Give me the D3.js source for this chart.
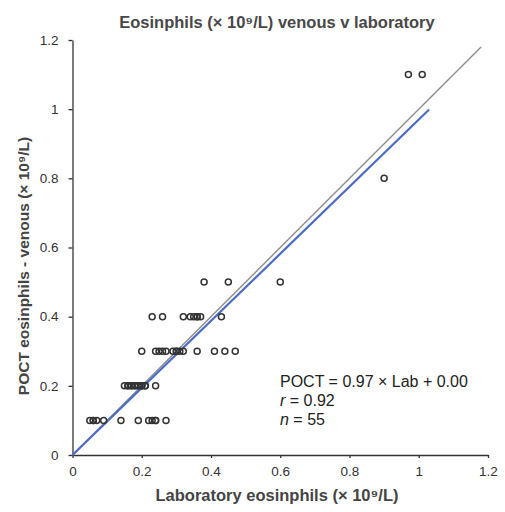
<!DOCTYPE html>
<html>
<head>
<meta charset="utf-8">
<script src="https://cdn.jsdelivr.net/npm/d3@7"></script>
<style>
  body { margin: 0; background: #fff; }
  svg { font-family: "Liberation Sans", Arial, sans-serif; }
  .axis path, .axis line { stroke: #333; stroke-width: 1.3; }
  .axis text { font-size: 13.5px; fill: #333; }
</style>
</head>
<body>
<div id="chart"></div>
<script>
// lab (x) and POCT venous (y) eosinphil counts, x10^9/L
const labValues = [
    0.05, 0.06, 0.06, 0.07, 0.09, 0.14, 0.19, 0.22, 0.23, 0.24, 0.24, 0.27,
    0.15, 0.16, 0.16, 0.17, 0.17, 0.18, 0.18, 0.19, 0.19, 0.20, 0.20, 0.21, 0.21, 0.24,
    0.20, 0.24, 0.25, 0.26, 0.27, 0.29, 0.30, 0.30, 0.31, 0.32, 0.36, 0.41, 0.44, 0.47,
    0.23, 0.26, 0.32, 0.34, 0.35, 0.36, 0.36, 0.37, 0.43,
    0.38, 0.45, 0.60,
    0.90,
    0.97, 1.01
];
const poctValues = [
    0.1, 0.1, 0.1, 0.1, 0.1, 0.1, 0.1, 0.1, 0.1, 0.1, 0.1, 0.1,
    0.2, 0.2, 0.2, 0.2, 0.2, 0.2, 0.2, 0.2, 0.2, 0.2, 0.2, 0.2, 0.2, 0.2,
    0.3, 0.3, 0.3, 0.3, 0.3, 0.3, 0.3, 0.3, 0.3, 0.3, 0.3, 0.3, 0.3, 0.3,
    0.4, 0.4, 0.4, 0.4, 0.4, 0.4, 0.4, 0.4, 0.4,
    0.5, 0.5, 0.5,
    0.8,
    1.1, 1.1
];
const tickValues = [0, 0.2, 0.4, 0.6, 0.8, 1, 1.2];
const identityLine = [[0, 0], [1.18, 1.18]];
const slope = 0.97, intercept = 0.00;
const fitRange = [0, 1.03];
const statsLines = ['POCT = 0.97 \u00d7 Lab + 0.00', 'r = 0.92', 'n = 55'];

const width = 505, height = 512;
const margin = { top: 40, right: 17, bottom: 57, left: 72.5 };

const svg = d3.select('#chart').append('svg')
    .attr('width', width)
    .attr('height', height);

const x = d3.scaleLinear().domain([0, 1.2]).range([margin.left, width - margin.right]);
const y = d3.scaleLinear().domain([0, 1.2]).range([height - margin.bottom, margin.top]);

const fmt = d => String(+d.toFixed(1));

svg.append('g')
    .attr('class', 'axis')
    .attr('transform', `translate(0,${height - margin.bottom})`)
    .call(d3.axisBottom(x).tickValues(tickValues).tickFormat(fmt).tickSize(3).tickSizeOuter(0).tickPadding(8));

svg.append('g')
    .attr('class', 'axis')
    .attr('transform', `translate(${margin.left},0)`)
    .call(d3.axisLeft(y).tickValues(tickValues).tickFormat(fmt).tickSize(4).tickSizeOuter(0).tickPadding(10));

const data = labValues.map((v, i) => ({ lab: v, poct: poctValues[i] }));

// line of identity
svg.append('line')
    .attr('x1', x(identityLine[0][0])).attr('y1', y(identityLine[0][1]))
    .attr('x2', x(identityLine[1][0])).attr('y2', y(identityLine[1][1]))
    .style('stroke', '#8c8c8c')
    .style('stroke-width', 1.4);

// regression line
svg.append('line')
    .attr('x1', x(fitRange[0])).attr('y1', y(slope * fitRange[0] + intercept))
    .attr('x2', x(fitRange[1])).attr('y2', y(slope * fitRange[1] + intercept))
    .style('stroke', '#4a6cc8')
    .style('stroke-width', 2.2);

svg.selectAll('.dot')
    .data(data)
    .enter().append('circle')
    .attr('class', 'dot')
    .attr('cx', d => x(d.lab))
    .attr('cy', d => y(d.poct))
    .attr('r', 3)
    .style('fill', 'none')
    .style('stroke', '#333')
    .style('stroke-width', 1.5);

// title and axis labels
svg.append('text')
    .attr('x', 277)
    .attr('y', 28)
    .attr('text-anchor', 'middle')
    .style('font-size', '16.5px')
    .style('font-weight', 'bold')
    .style('fill', '#484848')
    .text('Eosinphils (\u00d7 10\u2079/L) venous v laboratory');

svg.append('text')
    .attr('x', 277)
    .attr('y', 501)
    .attr('text-anchor', 'middle')
    .style('font-size', '16.5px')
    .style('font-weight', 'bold')
    .style('fill', '#444')
    .text('Laboratory eosinphils (\u00d7 10\u2079/L)');

svg.append('text')
    .attr('transform', 'translate(29,266) rotate(-90)')
    .attr('text-anchor', 'middle')
    .style('font-size', '15.5px')
    .style('font-weight', 'bold')
    .style('fill', '#444')
    .text('POCT eosinphils - venous (\u00d7 10\u2079/L)');

// fit statistics
const stats = svg.append('g').style('font-size', '16px').style('fill', '#222');
stats.append('text').attr('x', 280).attr('y', 387).text(statsLines[0]);
stats.append('text').attr('x', 280).attr('y', 406)
    .call(t => {
        t.append('tspan').style('font-style', 'italic').text(statsLines[1].slice(0, 1));
        t.append('tspan').text(statsLines[1].slice(1));
    });
stats.append('text').attr('x', 280).attr('y', 425)
    .call(t => {
        t.append('tspan').style('font-style', 'italic').text(statsLines[2].slice(0, 1));
        t.append('tspan').text(statsLines[2].slice(1));
    });
</script>
</body>
</html>
